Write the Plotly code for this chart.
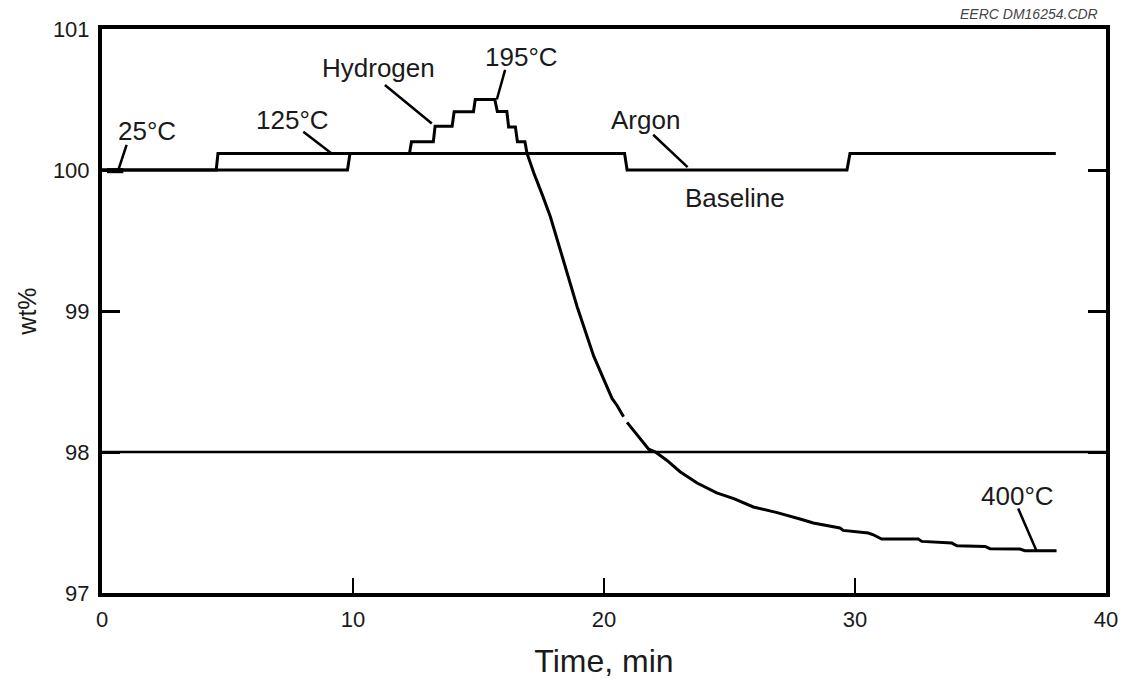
import plotly.graph_objects as go

# ---- data ----
# Argon baseline run
argon_t = [0, 9.78, 9.88, 20.82, 20.92, 29.68, 29.80, 38.0]
argon_w = [100.0, 100.0, 100.117, 100.117, 100.0, 100.0, 100.117, 100.117]

# Hydrogen run (steps while heating, then weight loss at 400 °C)
hyd_t = [0, 4.55, 4.62, 12.25, 12.33, 13.20, 13.27, 13.95, 14.03, 14.80, 14.87,
         15.65, 15.75, 16.13, 16.20, 16.47, 16.55, 16.85, 16.93, 17.20, 17.55,
         17.86, 18.33, 18.93, 19.59, 20.32, 20.52, 20.78, None, 20.92, 21.40,
         21.78, 22.05, 22.51, 23.03, 23.71, 24.49, 25.17, 25.95, 26.90, 27.81,
         28.34, 29.40, 29.53, 30.53, 30.73, 31.06, 32.52, 32.66, 33.86, 34.06,
         35.18, 35.38, 36.57, 36.77, 38.03]
hyd_w = [100.0, 100.0, 100.117, 100.117, 100.20, 100.20, 100.31, 100.31, 100.414,
         100.414, 100.50, 100.50, 100.415, 100.415, 100.305, 100.305, 100.20,
         100.20, 100.12, 99.98, 99.82, 99.67, 99.39, 99.03, 98.68, 98.38, 98.33,
         98.25, None, 98.21, 98.10, 98.02, 98.00, 97.94, 97.86, 97.78, 97.71,
         97.67, 97.61, 97.57, 97.525, 97.497, 97.461, 97.444, 97.425, 97.413,
         97.383, 97.383, 97.366, 97.354, 97.335, 97.330, 97.314, 97.312, 97.300,
         97.300]

x_ticks = [0, 10, 20, 30, 40]
y_ticks = [97, 98, 99, 100, 101]
ref_line_w = 98

# labels: text, text position, leader start, leader end
labels = [
    ("25°C", 1.80, 100.275, 0.98, 100.178, 0.65, 100.0),
    ("125°C", 7.59, 100.355, 8.02, 100.272, 9.15, 100.117),
    ("Hydrogen", 11.02, 100.72, 11.27, 100.603, 13.14, 100.33),
    ("195°C", 16.73, 100.80, 16.06, 100.71, 15.73, 100.50),
    ("Argon", 21.67, 100.355, 21.96, 100.25, 23.33, 100.02),
    ("Baseline", 25.22, 99.80, None, None, None, None),
    ("400°C", 36.47, 97.69, 36.50, 97.60, 37.23, 97.30),
]

FONT = "Liberation Sans, Arial, Helvetica, sans-serif"
INK = "#1a1a1a"

fig = go.Figure()
fig.add_trace(go.Scatter(x=argon_t, y=argon_w, mode="lines",
                         line=dict(color="black", width=3), showlegend=False))
fig.add_trace(go.Scatter(x=hyd_t, y=hyd_w, mode="lines", connectgaps=False,
                         line=dict(color="black", width=3), showlegend=False))

# horizontal reference line at 98 wt%
fig.add_shape(type="line", xref="x", yref="y", x0=x_ticks[0], x1=x_ticks[-1],
              y0=ref_line_w, y1=ref_line_w, line=dict(color="black", width=2.5))
# small mark on the 25 °C point
fig.add_shape(type="line", xref="x", yref="y", x0=0.2, x1=0.85, y0=99.995, y1=99.995,
              line=dict(color="black", width=5))

for txt, tx, ty, x0, y0, x1, y1 in labels:
    fig.add_annotation(x=tx, y=ty, xref="x", yref="y", text=txt, showarrow=False,
                       font=dict(family=FONT, size=26, color=INK))
    if x0 is not None:
        fig.add_shape(type="line", xref="x", yref="y", x0=x0, y0=y0, x1=x1, y1=y1,
                      line=dict(color="black", width=2.5))

fig.add_annotation(x=1.0, y=1.0, xref="paper", yref="paper", xanchor="right",
                   yanchor="bottom", yshift=5, xshift=-6, text="<i>EERC DM16254.CDR</i>",
                   showarrow=False, font=dict(family=FONT, size=14, color="#444"))

fig.update_layout(
    width=1133, height=683,
    margin=dict(l=102, r=27, t=29, b=90),
    paper_bgcolor="white", plot_bgcolor="white",
    font=dict(family=FONT, color=INK),
)
fig.update_xaxes(range=[0, 40], tickvals=x_ticks, ticks="inside", ticklen=15,
                 tickwidth=2, tickcolor="black", showgrid=False, zeroline=False,
                 showline=True, linewidth=4, linecolor="black", mirror=True,
                 automargin=False,
                 tickfont=dict(size=22, color=INK), ticklabelstandoff=4,
                 title=dict(text="Time, min", font=dict(size=32, color=INK), standoff=19))
fig.update_yaxes(range=[97, 101], tickvals=y_ticks, ticks="inside", ticklen=18,
                 tickwidth=2.5, tickcolor="black", showgrid=False, zeroline=False,
                 showline=True, linewidth=4, linecolor="black", mirror="ticks",
                 automargin=False,
                 tickfont=dict(size=22, color=INK), ticklabelstandoff=4,
                 title=dict(text="wt%", font=dict(size=25, color=INK), standoff=10))

fig.write_html("out.html", config={"displayModeBar": False},
               post_script="document.body.style.margin='0';")
